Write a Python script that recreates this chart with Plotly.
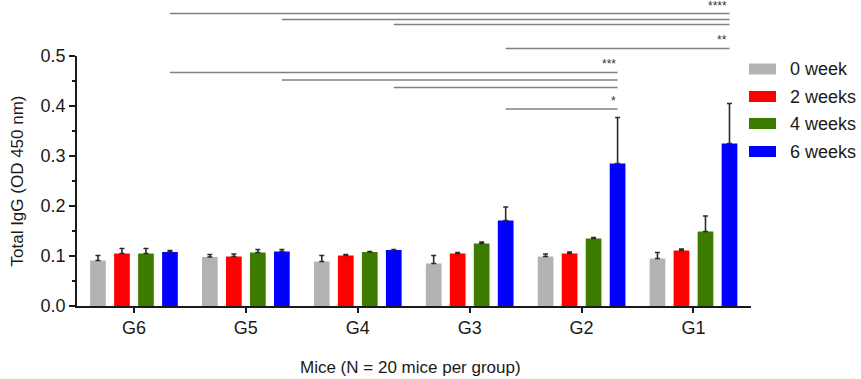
import plotly.graph_objects as go

# ---------------- data ----------------
groups = ["G6", "G5", "G4", "G3", "G2", "G1"]
series_names = ["0 week", "2 weeks", "4 weeks", "6 weeks"]

week0 = [0.091, 0.098, 0.089, 0.085, 0.099, 0.095]
week0_err = [0.010, 0.005, 0.012, 0.016, 0.005, 0.012]
week2 = [0.105, 0.099, 0.101, 0.105, 0.105, 0.111]
week2_err = [0.010, 0.005, 0.002, 0.002, 0.003, 0.003]
week4 = [0.105, 0.107, 0.108, 0.125, 0.135, 0.149]
week4_err = [0.010, 0.006, 0.001, 0.003, 0.002, 0.031]
week6 = [0.108, 0.109, 0.112, 0.171, 0.285, 0.325]
week6_err = [0.003, 0.004, 0.001, 0.027, 0.092, 0.080]

# significance comparisons (6-week values)
sig_from = ["G6", "G5", "G4", "G3", "G6", "G5", "G4", "G3"]
sig_to = ["G1", "G1", "G1", "G1", "G2", "G2", "G2", "G2"]
sig_level = [0.585, 0.573, 0.563, 0.515, 0.467, 0.452, 0.437, 0.394]
sig_text = ["****", "", "", "**", "***", "", "", "*"]

y_ticks = [0.0, 0.1, 0.2, 0.3, 0.4, 0.5]
y_minor = [0.05, 0.15, 0.25, 0.35, 0.45]

x_title = "Mice (N = 20 mice per group)"
y_title = "Total IgG (OD 450 nm)"

# ---------------- styling ----------------
colors = ["#b3b3b3", "#ff0000", "#3d7b00", "#0000ff"]
FONT = "Liberation Sans, Arial, Helvetica, sans-serif"
BARGAP = 0.142
BARGROUPGAP = 0.346
YMAX = 0.5

W, H = 861, 379
ML, MR, MT, MB = 77, 110, 56, 73

fig = go.Figure()
values = [week0, week2, week4, week6]
errors = [week0_err, week2_err, week4_err, week6_err]
for name, vals, errs, col in zip(series_names, values, errors, colors):
    fig.add_trace(go.Bar(
        x=groups, y=vals, name=name,
        marker=dict(color=col, line=dict(width=0)),
        error_y=dict(type="data", symmetric=False, array=errs,
                     arrayminus=[0] * len(errs),
                     color="#2b2b2b", thickness=1.6, width=2.5),
        showlegend=False,
    ))

# position of the 6-week bar centre inside its group (category units)
slot = (1 - BARGAP) / len(series_names)
blue_off = 1.5 * slot

shapes = []
annotations = []
for a, b, lvl, txt in zip(sig_from, sig_to, sig_level, sig_text):
    x0 = groups.index(a) + blue_off
    x1 = groups.index(b) + blue_off
    shapes.append(dict(type="line", xref="x", yref="paper",
                       x0=x0, x1=x1, y0=lvl / YMAX, y1=lvl / YMAX,
                       line=dict(color="#808080", width=1.6)))
    if txt:
        annotations.append(dict(xref="x", yref="paper", x=x1, y=lvl / YMAX,
                                text=txt, showarrow=False,
                                xanchor="right", yanchor="bottom", yshift=-1,
                                font=dict(size=12, color="#333333", family=FONT)))

# pixel -> paper helpers for layout placement
plot_w = W - ML - MR
plot_h = H - MT - MB
def px_x(px):
    return (px - ML) / plot_w
def px_y(py):
    return (H - MB - py) / plot_h

# manual legend
row_centres = [69, 96.5, 123.5, 151.5]
for name, col, yc in zip(series_names, colors, row_centres):
    shapes.append(dict(type="rect", xref="paper", yref="paper",
                       x0=px_x(749), x1=px_x(776),
                       y0=px_y(yc + 5.5), y1=px_y(yc - 5.5),
                       fillcolor=col, line=dict(width=0)))
    annotations.append(dict(xref="paper", yref="paper", x=px_x(788), y=px_y(yc),
                            text=name, showarrow=False, xanchor="left",
                            yanchor="middle",
                            font=dict(size=18, color="#1a1a1a", family=FONT)))

# x-axis title
annotations.append(dict(xref="paper", yref="paper", x=px_x(410), y=px_y(367),
                        text=x_title, showarrow=False, xanchor="center",
                        yanchor="middle",
                        font=dict(size=17, color="#1a1a1a", family=FONT)))

fig.update_layout(
    width=W, height=H,
    margin=dict(l=ML, r=MR, t=MT, b=MB, pad=0),
    paper_bgcolor="white", plot_bgcolor="white",
    barmode="group", bargap=BARGAP, bargroupgap=BARGROUPGAP,
    font=dict(family=FONT, size=18, color="#1a1a1a"),
    showlegend=False,
    shapes=shapes, annotations=annotations,
    xaxis=dict(
        type="category", categoryorder="array", categoryarray=groups,
        range=[-0.509, 5.514],
        showline=True, linecolor="#1a1a1a", linewidth=1.6,
        ticks="outside", ticklen=5, tickwidth=1.6, tickcolor="#1a1a1a",
        showgrid=False, zeroline=False,
        tickfont=dict(size=18, family=FONT, color="#1a1a1a"),
    ),
    yaxis=dict(
        range=[0, YMAX],
        tickmode="array", tickvals=y_ticks, tickformat=".1f",
        showline=True, linecolor="#1a1a1a", linewidth=1.6,
        ticks="outside", ticklen=6, tickwidth=1.6, tickcolor="#1a1a1a",
        minor=dict(tickmode="array", tickvals=y_minor, ticks="outside",
                   ticklen=3, tickwidth=1.6, tickcolor="#1a1a1a", showgrid=False),
        showgrid=False, zeroline=False,
        tickfont=dict(size=18, family=FONT, color="#1a1a1a"),
        title=dict(text=y_title, standoff=13,
                   font=dict(size=17, family=FONT, color="#1a1a1a")),
    ),
)

fig.write_html("out.html",
               config={"displayModeBar": False},
               post_script="document.body.style.margin='0';document.body.style.padding='0';")
